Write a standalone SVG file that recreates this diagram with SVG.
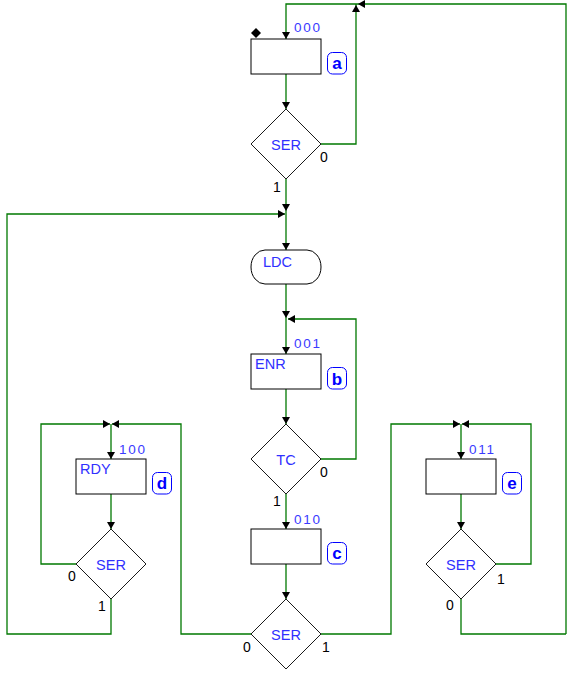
<svg xmlns="http://www.w3.org/2000/svg" xmlns:xlink="http://www.w3.org/1999/xlink" width="572" height="675" viewBox="0 0 572 675">
<style>
.bg{fill:#ffffff}
.st{fill:#ffffff;stroke:#000000;stroke-width:1}
.dm{fill:#ffffff;stroke:#000000;stroke-width:0.9}
.cn{fill:none;stroke:#007800;stroke-width:1.3}
.ah{fill:#000000}
.t{font-family:"Liberation Sans",Arial,sans-serif;font-size:14.5px;fill:#3030ff}
.code{font-family:"Liberation Sans",Arial,sans-serif;font-size:13.5px;fill:#3a3aff;letter-spacing:1.8px}
.lb{fill:#ffffff;stroke:#0000ff;stroke-width:1}
.lt{font-family:"Liberation Sans",Arial,sans-serif;font-size:17px;font-weight:bold;fill:#0000ff;text-anchor:middle}
.o{font-family:"Liberation Sans",Arial,sans-serif;font-size:14px;fill:#000000}
</style>
<defs>
<path id="ad" d="M0,0 L-4,-7 L4,-7 Z"/>
</defs>
<rect class="bg" x="0" y="0" width="572" height="675"/>

<g id="connectors">
<path class="cn" d="M286,74 V109"/>
<path class="cn" d="M321,144 H356 V4"/>
<path class="cn" d="M566,634 V4 H286 V39"/>
<path class="cn" d="M286,179 V250"/>
<path class="cn" d="M286,284 V354"/>
<path class="cn" d="M321,459 H356 V319 H288"/>
<path class="cn" d="M286,389 V424"/>
<path class="cn" d="M286,494 V529"/>
<path class="cn" d="M286,564 V599"/>
<path class="cn" d="M251,634 H181 V424 H112"/>
<path class="cn" d="M321,634 H391 V424 H460"/>
<path class="cn" d="M111,424 V459"/>
<path class="cn" d="M111,494 V529"/>
<path class="cn" d="M76,564 H41 V424 H110"/>
<path class="cn" d="M111,599 V634 H7 V214 H285"/>
<path class="cn" d="M461,424 V459"/>
<path class="cn" d="M461,494 V529"/>
<path class="cn" d="M496,564 H531 V424 H462"/>
<path class="cn" d="M461,599 V634 H566"/>
<!-- arrowheads -->
<use class="ah" xlink:href="#ad" transform="translate(286,39)"/>
<use class="ah" xlink:href="#ad" transform="translate(286,109)"/>
<use class="ah" xlink:href="#ad" transform="translate(356,5) rotate(180)"/>
<use class="ah" xlink:href="#ad" transform="translate(358,4) rotate(90)"/>
<use class="ah" xlink:href="#ad" transform="translate(286,211)"/>
<use class="ah" xlink:href="#ad" transform="translate(285,214) rotate(-90)"/>
<use class="ah" xlink:href="#ad" transform="translate(286,250)"/>
<use class="ah" xlink:href="#ad" transform="translate(286,318)"/>
<use class="ah" xlink:href="#ad" transform="translate(288,319) rotate(90)"/>
<use class="ah" xlink:href="#ad" transform="translate(286,354)"/>
<use class="ah" xlink:href="#ad" transform="translate(286,424)"/>
<use class="ah" xlink:href="#ad" transform="translate(286,529)"/>
<use class="ah" xlink:href="#ad" transform="translate(286,599)"/>
<use class="ah" xlink:href="#ad" transform="translate(110,424) rotate(-90)"/>
<use class="ah" xlink:href="#ad" transform="translate(112,424) rotate(90)"/>
<use class="ah" xlink:href="#ad" transform="translate(111,459)"/>
<use class="ah" xlink:href="#ad" transform="translate(111,529)"/>
<use class="ah" xlink:href="#ad" transform="translate(460,424) rotate(-90)"/>
<use class="ah" xlink:href="#ad" transform="translate(462,424) rotate(90)"/>
<use class="ah" xlink:href="#ad" transform="translate(461,459)"/>
<use class="ah" xlink:href="#ad" transform="translate(461,529)"/>
</g>

<g id="state-a">
<path class="ah" d="M256,28 L261,33 L256,38 L251,33 Z"/>
<rect class="st" x="251" y="39" width="70" height="35"/>
<text class="code" x="294" y="32">000</text>
<rect class="lb" x="327.5" y="52.5" width="19" height="21.5" rx="5"/>
<text class="lt" x="337" y="69">a</text>
</g>
<g id="dec-a">
<path class="dm" d="M286,109 L321,144 L286,179 L251,144 Z"/>
<text class="t" x="286" y="150" text-anchor="middle">SER</text>
<text class="o" x="320" y="162">0</text>
<text class="o" x="273" y="192">1</text>
</g>
<g id="cond-ldc">
<rect class="st" x="251" y="250" width="70" height="34" rx="14" ry="17"/>
<text class="t" x="263" y="267">LDC</text>
</g>
<g id="state-b">
<rect class="st" x="251" y="354" width="70" height="35"/>
<text class="code" x="294" y="348">001</text>
<text class="t" x="255" y="369">ENR</text>
<rect class="lb" x="327.5" y="367.5" width="19" height="21.5" rx="5"/>
<text class="lt" x="337" y="385">b</text>
</g>
<g id="dec-tc">
<path class="dm" d="M286,424 L321,459 L286,494 L251,459 Z"/>
<text class="t" x="286" y="465" text-anchor="middle">TC</text>
<text class="o" x="320" y="477">0</text>
<text class="o" x="273" y="506">1</text>
</g>
<g id="state-c">
<rect class="st" x="251" y="529" width="70" height="35"/>
<text class="code" x="294" y="524">010</text>
<rect class="lb" x="327.5" y="542.5" width="19" height="21.5" rx="5"/>
<text class="lt" x="337" y="559">c</text>
</g>
<g id="dec-c">
<path class="dm" d="M286,599 L321,634 L286,669 L251,634 Z"/>
<text class="t" x="286" y="640" text-anchor="middle">SER</text>
<text class="o" x="243" y="652">0</text>
<text class="o" x="322" y="652">1</text>
</g>
<g id="state-d">
<rect class="st" x="76" y="459" width="70" height="35"/>
<text class="code" x="119" y="454">100</text>
<text class="t" x="80" y="474">RDY</text>
<rect class="lb" x="152.5" y="472.5" width="19" height="21.5" rx="5"/>
<text class="lt" x="162" y="489">d</text>
</g>
<g id="dec-d">
<path class="dm" d="M111,529 L146,564 L111,599 L76,564 Z"/>
<text class="t" x="111" y="570" text-anchor="middle">SER</text>
<text class="o" x="68" y="581">0</text>
<text class="o" x="98" y="611">1</text>
</g>
<g id="state-e">
<rect class="st" x="426" y="459" width="70" height="35"/>
<text class="code" x="469" y="454">011</text>
<rect class="lb" x="502.5" y="472.5" width="19" height="21.5" rx="5"/>
<text class="lt" x="512" y="489">e</text>
</g>
<g id="dec-e">
<path class="dm" d="M461,529 L496,564 L461,599 L426,564 Z"/>
<text class="t" x="461" y="570" text-anchor="middle">SER</text>
<text class="o" x="497" y="584">1</text>
<text class="o" x="446" y="610">0</text>
</g>
</svg>
